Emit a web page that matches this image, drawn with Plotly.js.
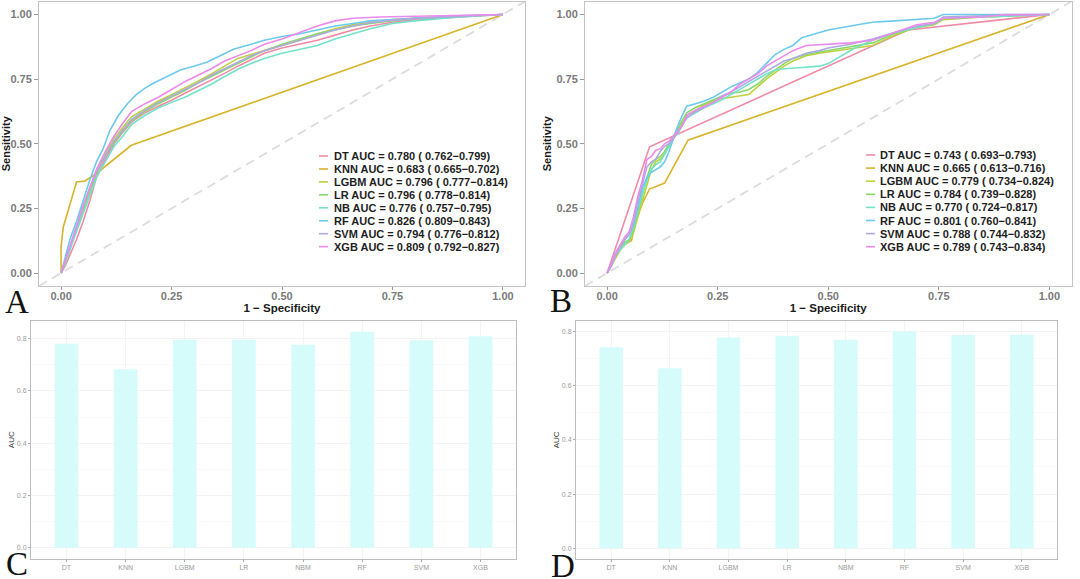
<!DOCTYPE html>
<html>
<head>
<meta charset="utf-8">
<script src="https://cdn.plot.ly/plotly-3.0.1.min.js"></script>
<style>
  html, body { margin: 0; padding: 0; background: #fff; }
  #chart { width: 1080px; height: 579px; }
</style>
</head>
<body>
<div id="chart"></div>
<script>
// models, AUC and CI as printed in the legends
const models = ['DT', 'KNN', 'LGBM', 'LR', 'NB', 'RF', 'SVM', 'XGB'];
const barCats = ['DT', 'KNN', 'LGBM', 'LR', 'NBM', 'RF', 'SVM', 'XGB'];
const colors = ['#f08aa6', '#d8b42a', '#bcd23c', '#88d86a', '#72e2c8', '#6ccaea', '#b0a8e2', '#ec8aec'];

const aucTrain = [0.780, 0.683, 0.796, 0.796, 0.776, 0.826, 0.794, 0.809];
const ciTrainLo = [0.762, 0.665, 0.777, 0.778, 0.757, 0.809, 0.776, 0.792];
const ciTrainHi = [0.799, 0.702, 0.814, 0.814, 0.795, 0.843, 0.812, 0.827];

const aucTest = [0.743, 0.665, 0.779, 0.784, 0.770, 0.801, 0.788, 0.789];
const ciTestLo = [0.693, 0.613, 0.734, 0.739, 0.724, 0.760, 0.744, 0.743];
const ciTestHi = [0.793, 0.716, 0.824, 0.828, 0.817, 0.841, 0.832, 0.834];

// reference diagonal
const diag = [-0.05, 1.05];

// ROC curves, panel A (fpr, tpr)
const rocA_DT = [[0,0],[0.01,0.03],[0.02,0.07],[0.035,0.13],[0.05,0.2],[0.065,0.28],[0.08,0.37],[0.1,0.44],[0.12,0.5],[0.14,0.545],[0.16,0.585],[0.19,0.62],[0.22,0.645],[0.25,0.668],[0.28,0.695],[0.31,0.72],[0.34,0.745],[0.37,0.772],[0.4,0.8],[0.43,0.825],[0.46,0.85],[0.5,0.87],[0.54,0.885],[0.58,0.9],[0.62,0.92],[0.66,0.94],[0.7,0.955],[0.75,0.97],[0.8,0.98],[0.9,0.99],[1,1]];
const rocA_KNN = [[0,0],[0,0.1],[0.005,0.178],[0.035,0.352],[0.054,0.356],[0.08,0.385],[0.159,0.494],[1,1]];
const rocA_LGBM = [[0,0],[0.01,0.04],[0.02,0.09],[0.035,0.17],[0.05,0.25],[0.065,0.32],[0.08,0.39],[0.1,0.46],[0.12,0.52],[0.14,0.565],[0.16,0.605],[0.19,0.635],[0.22,0.665],[0.25,0.69],[0.28,0.715],[0.31,0.742],[0.34,0.77],[0.37,0.8],[0.4,0.83],[0.43,0.845],[0.46,0.86],[0.5,0.88],[0.54,0.9],[0.58,0.925],[0.62,0.945],[0.66,0.96],[0.7,0.97],[0.75,0.98],[0.8,0.985],[0.9,0.993],[1,1]];
const rocA_LR = [[0,0],[0.01,0.04],[0.02,0.1],[0.035,0.17],[0.05,0.24],[0.065,0.31],[0.08,0.385],[0.1,0.455],[0.12,0.505],[0.14,0.55],[0.16,0.59],[0.19,0.625],[0.22,0.655],[0.25,0.68],[0.28,0.706],[0.31,0.735],[0.34,0.76],[0.37,0.786],[0.4,0.81],[0.43,0.835],[0.46,0.86],[0.5,0.885],[0.54,0.905],[0.58,0.925],[0.62,0.94],[0.66,0.955],[0.7,0.965],[0.75,0.975],[0.8,0.985],[0.9,0.993],[1,1]];
const rocA_NB = [[0,0],[0.01,0.04],[0.02,0.09],[0.035,0.16],[0.05,0.23],[0.065,0.3],[0.08,0.37],[0.1,0.43],[0.12,0.49],[0.14,0.53],[0.16,0.575],[0.19,0.61],[0.22,0.638],[0.25,0.66],[0.28,0.68],[0.31,0.705],[0.34,0.73],[0.37,0.76],[0.4,0.788],[0.43,0.81],[0.46,0.83],[0.5,0.85],[0.54,0.865],[0.58,0.88],[0.62,0.905],[0.66,0.925],[0.7,0.945],[0.75,0.965],[0.8,0.975],[0.9,0.99],[1,1]];
const rocA_RF = [[0,0],[0.01,0.07],[0.02,0.13],[0.035,0.2],[0.05,0.28],[0.065,0.36],[0.08,0.43],[0.095,0.48],[0.11,0.55],[0.13,0.61],[0.15,0.655],[0.17,0.69],[0.19,0.715],[0.21,0.735],[0.24,0.76],[0.27,0.785],[0.3,0.8],[0.33,0.815],[0.36,0.84],[0.39,0.865],[0.42,0.88],[0.46,0.9],[0.5,0.915],[0.54,0.925],[0.58,0.94],[0.62,0.955],[0.66,0.965],[0.7,0.975],[0.75,0.98],[0.8,0.985],[0.85,0.99],[0.9,0.995],[1,1]];
const rocA_SVM = [[0,0],[0.01,0.05],[0.02,0.1],[0.035,0.18],[0.05,0.26],[0.065,0.33],[0.08,0.39],[0.1,0.45],[0.12,0.51],[0.14,0.555],[0.16,0.595],[0.19,0.63],[0.22,0.66],[0.25,0.685],[0.28,0.71],[0.31,0.735],[0.34,0.765],[0.37,0.79],[0.4,0.815],[0.43,0.84],[0.46,0.86],[0.5,0.88],[0.54,0.9],[0.58,0.92],[0.62,0.94],[0.66,0.955],[0.7,0.968],[0.75,0.978],[0.8,0.985],[0.9,0.993],[1,1]];
const rocA_XGB = [[0,0],[0.01,0.05],[0.02,0.1],[0.035,0.18],[0.05,0.26],[0.065,0.33],[0.08,0.4],[0.1,0.47],[0.12,0.53],[0.14,0.58],[0.16,0.625],[0.19,0.655],[0.22,0.68],[0.25,0.71],[0.28,0.74],[0.31,0.765],[0.34,0.79],[0.37,0.82],[0.4,0.84],[0.43,0.86],[0.46,0.885],[0.5,0.905],[0.54,0.93],[0.58,0.955],[0.62,0.975],[0.66,0.985],[0.72,0.99],[0.8,0.993],[0.9,0.997],[1,1]];

// ROC curves, panel B (fpr, tpr)
const rocB_DT = [[0,0],[0.096,0.488],[0.68,0.94],[1,1]];
const rocB_KNN = [[0,0],[0.03,0.1],[0.04,0.12],[0.055,0.125],[0.065,0.2],[0.08,0.27],[0.096,0.325],[0.13,0.348],[0.183,0.514],[1,1]];
const rocB_LGBM = [[0,0],[0.01,0.03],[0.02,0.06],[0.03,0.09],[0.04,0.11],[0.05,0.12],[0.06,0.16],[0.07,0.22],[0.08,0.28],[0.09,0.34],[0.1,0.4],[0.11,0.43],[0.12,0.44],[0.13,0.46],[0.14,0.49],[0.15,0.52],[0.16,0.55],[0.17,0.58],[0.18,0.61],[0.2,0.63],[0.22,0.65],[0.24,0.665],[0.26,0.675],[0.28,0.68],[0.3,0.685],[0.32,0.69],[0.34,0.72],[0.36,0.75],[0.38,0.775],[0.4,0.8],[0.42,0.82],[0.45,0.84],[0.48,0.85],[0.5,0.855],[0.55,0.865],[0.6,0.88],[0.65,0.92],[0.7,0.95],[0.74,0.96],[0.76,0.98],[0.85,0.99],[1,1]];
const rocB_LR = [[0,0],[0.01,0.03],[0.02,0.07],[0.03,0.1],[0.04,0.12],[0.05,0.13],[0.06,0.17],[0.07,0.24],[0.08,0.31],[0.09,0.37],[0.1,0.42],[0.11,0.44],[0.12,0.45],[0.13,0.47],[0.14,0.5],[0.15,0.53],[0.16,0.56],[0.17,0.59],[0.18,0.62],[0.2,0.64],[0.22,0.655],[0.24,0.67],[0.26,0.685],[0.28,0.695],[0.3,0.7],[0.32,0.71],[0.34,0.73],[0.36,0.76],[0.38,0.785],[0.4,0.81],[0.42,0.83],[0.45,0.845],[0.48,0.855],[0.5,0.86],[0.55,0.875],[0.6,0.89],[0.65,0.925],[0.7,0.95],[0.74,0.965],[0.76,0.985],[0.85,0.99],[1,1]];
const rocB_NB = [[0,0],[0.01,0.03],[0.02,0.07],[0.03,0.09],[0.04,0.11],[0.05,0.13],[0.06,0.18],[0.07,0.25],[0.08,0.31],[0.09,0.36],[0.1,0.4],[0.11,0.42],[0.12,0.43],[0.13,0.46],[0.14,0.49],[0.15,0.52],[0.16,0.54],[0.17,0.57],[0.18,0.6],[0.2,0.62],[0.22,0.64],[0.24,0.655],[0.26,0.67],[0.28,0.69],[0.3,0.71],[0.32,0.73],[0.34,0.75],[0.36,0.77],[0.38,0.785],[0.4,0.79],[0.44,0.795],[0.48,0.8],[0.5,0.81],[0.53,0.84],[0.56,0.87],[0.6,0.9],[0.65,0.93],[0.7,0.95],[0.74,0.965],[0.76,0.985],[0.85,0.99],[1,1]];
const rocB_RF = [[0,0],[0.01,0.04],[0.02,0.08],[0.03,0.11],[0.04,0.13],[0.05,0.15],[0.06,0.19],[0.07,0.26],[0.08,0.33],[0.09,0.37],[0.1,0.39],[0.11,0.4],[0.12,0.41],[0.13,0.43],[0.14,0.47],[0.15,0.52],[0.16,0.57],[0.17,0.61],[0.18,0.645],[0.2,0.655],[0.22,0.665],[0.24,0.68],[0.26,0.7],[0.28,0.72],[0.3,0.735],[0.32,0.75],[0.34,0.775],[0.36,0.81],[0.38,0.845],[0.4,0.865],[0.42,0.88],[0.44,0.91],[0.47,0.925],[0.5,0.94],[0.55,0.955],[0.6,0.97],[0.65,0.975],[0.7,0.98],[0.74,0.985],[0.76,1],[1,1]];
const rocB_SVM = [[0,0],[0.01,0.03],[0.02,0.07],[0.03,0.1],[0.04,0.13],[0.05,0.15],[0.06,0.2],[0.07,0.28],[0.08,0.35],[0.09,0.41],[0.1,0.43],[0.11,0.44],[0.12,0.47],[0.13,0.49],[0.14,0.5],[0.15,0.52],[0.16,0.545],[0.17,0.57],[0.18,0.6],[0.2,0.625],[0.22,0.64],[0.24,0.66],[0.26,0.685],[0.28,0.7],[0.3,0.72],[0.32,0.74],[0.34,0.76],[0.36,0.78],[0.38,0.8],[0.4,0.82],[0.42,0.83],[0.45,0.85],[0.48,0.86],[0.5,0.87],[0.55,0.885],[0.6,0.905],[0.65,0.93],[0.7,0.955],[0.74,0.965],[0.76,0.99],[0.85,0.995],[1,1]];
const rocB_XGB = [[0,0],[0.01,0.04],[0.02,0.08],[0.03,0.11],[0.04,0.14],[0.05,0.16],[0.06,0.22],[0.07,0.3],[0.08,0.36],[0.09,0.44],[0.1,0.45],[0.11,0.475],[0.12,0.48],[0.13,0.5],[0.14,0.51],[0.15,0.53],[0.16,0.55],[0.17,0.57],[0.18,0.61],[0.2,0.63],[0.22,0.645],[0.24,0.66],[0.26,0.68],[0.28,0.7],[0.3,0.73],[0.32,0.75],[0.34,0.77],[0.36,0.8],[0.38,0.82],[0.4,0.84],[0.42,0.86],[0.45,0.88],[0.5,0.885],[0.55,0.89],[0.6,0.9],[0.65,0.93],[0.7,0.96],[0.74,0.97],[0.76,0.985],[0.85,0.99],[0.9,1],[1,1]];

const rocA = [rocA_DT, rocA_KNN, rocA_LGBM, rocA_LR, rocA_NB, rocA_RF, rocA_SVM, rocA_XGB];
const rocB = [rocB_DT, rocB_KNN, rocB_LGBM, rocB_LR, rocB_NB, rocB_RF, rocB_SVM, rocB_XGB];

const W = 1080, H = 579;
const fx = p => p / W;
const fy = p => 1 - p / H;
const FONT = 'Liberation Sans, Arial, sans-serif';

const traces = [];

function addRoc(curves, xa, ya) {
    traces.push({
        x: diag, y: diag, xaxis: xa, yaxis: ya, mode: 'lines', hoverinfo: 'none',
        line: {color: '#dcdcdc', width: 1.8, dash: '9px,6px'}
    });
    curves.forEach((c, i) => {
        traces.push({
            x: c.map(p => p[0]), y: c.map(p => p[1]), xaxis: xa, yaxis: ya,
            mode: 'lines', hoverinfo: 'none',
            line: {color: colors[i], width: 1.6}
        });
    });
}
addRoc(rocA, 'x', 'y');
addRoc(rocB, 'x2', 'y2');

traces.push({
    type: 'bar', x: barCats, y: aucTrain, xaxis: 'x3', yaxis: 'y3',
    width: 0.4, marker: {color: '#d6fbfb'}, hoverinfo: 'none'
});
traces.push({
    type: 'bar', x: barCats, y: aucTest, xaxis: 'x4', yaxis: 'y4',
    width: 0.4, marker: {color: '#d6fbfb'}, hoverinfo: 'none'
});

function rocX(dom) {
    return {
        domain: dom, range: [-0.05, 1.05], showline: true, mirror: true,
        linecolor: '#c4c4c4', linewidth: 1, showgrid: false, zeroline: false,
        ticks: 'outside', ticklen: 3, tickcolor: '#999', tickwidth: 1,
        ticklabelstandoff: -3,
        tickvals: [0, 0.25, 0.5, 0.75, 1], tickformat: '.2f',
        tickfont: {family: FONT, size: 11, color: '#7a7a7a', weight: 'bold'},
        title: {text: '1 \u2212 Specificity', standoff: 1,
                font: {family: FONT, size: 11.5, color: '#1a1a1a', weight: 'bold'}}
    };
}
function rocY(dom) {
    return {
        domain: dom, range: [-0.05, 1.05], showline: true, mirror: true,
        linecolor: '#c4c4c4', linewidth: 1, showgrid: false, zeroline: false,
        ticks: 'outside', ticklen: 4, tickcolor: '#999', tickwidth: 1,
        tickvals: [0, 0.25, 0.5, 0.75, 1], tickformat: '.2f',
        tickfont: {family: FONT, size: 11, color: '#7a7a7a', weight: 'bold'},
        title: {text: 'Sensitivity', standoff: 2,
                font: {family: FONT, size: 11, color: '#1a1a1a', weight: 'bold'}}
    };
}
function barX(dom) {
    return {
        domain: dom, type: 'category', range: [-0.6, 7.6], showline: true, mirror: true,
        linecolor: '#bdbdbd', linewidth: 1, showgrid: true, gridcolor: '#f3f3f3',
        zeroline: false, ticks: 'outside', ticklen: 2, tickcolor: '#aaa',
        tickfont: {family: FONT, size: 7, color: '#999'}
    };
}
function barY(dom, vals) {
    const top = Math.max(...vals);
    return {
        domain: dom, range: [-0.05 * top, 1.05 * top], showline: true, mirror: true,
        linecolor: '#bdbdbd', linewidth: 1, showgrid: true, gridcolor: '#f3f3f3',
        minor: {showgrid: true, gridcolor: '#f9f9f9', dtick: 0.1},
        zeroline: false, ticks: 'outside', ticklen: 2, tickcolor: '#aaa',
        dtick: 0.2, tickformat: '.1f',
        tickfont: {family: FONT, size: 7, color: '#999'},
        title: {text: 'AUC', standoff: 1, font: {family: FONT, size: 8, color: '#333'}}
    };
}

const layout = {
    width: W, height: H, margin: {l: 0, r: 0, t: 0, b: 0},
    paper_bgcolor: '#fff', plot_bgcolor: '#fff', showlegend: false,
    xaxis: Object.assign(rocX([fx(39), fx(525)]), {anchor: 'y'}),
    yaxis: Object.assign(rocY([fy(286), fy(1.5)]), {anchor: 'x'}),
    xaxis2: Object.assign(rocX([fx(585), fx(1071.5)]), {anchor: 'y2'}),
    yaxis2: Object.assign(rocY([fy(286), fy(1.5)]), {anchor: 'x2'}),
    xaxis3: Object.assign(barX([fx(31), fx(516)]), {anchor: 'y3'}),
    yaxis3: Object.assign(barY([fy(558.5), fy(321)], aucTrain), {anchor: 'x3'}),
    xaxis4: Object.assign(barX([fx(576), fx(1057)]), {anchor: 'y4'}),
    yaxis4: Object.assign(barY([fy(559), fy(320.6)], aucTest), {anchor: 'x4'}),
    annotations: [],
    shapes: []
};

// legends drawn as text rows with a short coloured key
function addLegend(auc, lo, hi, keyX0, keyX1, textX, y0, step) {
    models.forEach((m, i) => {
        const y = y0 + i * step;
        layout.shapes.push({
            type: 'line', xref: 'paper', yref: 'paper',
            x0: fx(keyX0), x1: fx(keyX1), y0: fy(y), y1: fy(y),
            line: {color: colors[i], width: 1.6}
        });
        layout.annotations.push({
            xref: 'paper', yref: 'paper', x: fx(textX), y: fy(y),
            xanchor: 'left', yanchor: 'middle', showarrow: false, borderpad: 0,
            text: m + ' AUC = ' + auc[i].toFixed(3) + ' ( ' + lo[i].toFixed(3) + '\u2212' + hi[i].toFixed(3) + ')',
            font: {family: FONT, size: 11, color: '#1e1e1e', weight: 'bold'}
        });
    });
}
addLegend(aucTrain, ciTrainLo, ciTrainHi, 319, 328, 333, 156, 12.95);
addLegend(aucTest, ciTestLo, ciTestHi, 866, 875, 879, 155, 13.1);

// panel letters
[['A', 4, 302], ['B', 549, 301], ['C', 5, 564], ['D', 550, 566]].forEach(l => {
    layout.annotations.push({
        xref: 'paper', yref: 'paper', x: fx(l[1]), y: fy(l[2]),
        xanchor: 'left', yanchor: 'middle', showarrow: false, text: l[0], borderpad: 0,
        font: {family: 'Liberation Serif, Times New Roman, serif', size: 33, color: '#111'}
    });
});

Plotly.newPlot('chart', traces, layout, {staticPlot: true, displayModeBar: false});
</script>
</body>
</html>
